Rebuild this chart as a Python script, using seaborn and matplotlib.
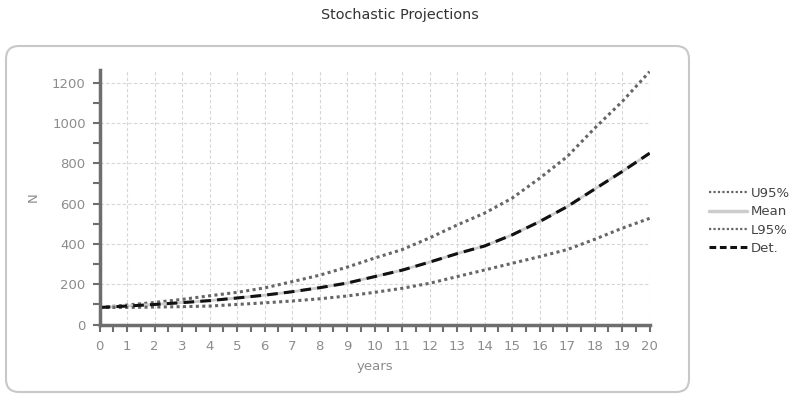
import matplotlib
matplotlib.use("Agg")
import matplotlib.pyplot as plt
import seaborn as sns
import pandas as pd
from matplotlib.patches import FancyBboxPatch
from matplotlib.ticker import MultipleLocator
from matplotlib.lines import Line2D

years = list(range(0, 21))
u95 = [85, 97, 110, 125, 143, 160, 182, 213, 245, 285, 330, 372, 430, 494, 553, 627, 726, 833, 974, 1106, 1255]
mean = [85, 92, 100, 109, 119, 132, 146, 163, 183, 206, 238, 270, 310, 352, 390, 445, 511, 585, 672, 759, 850]
l95 = [85, 85, 87, 89, 92, 100, 108, 117, 128, 142, 160, 180, 205, 238, 271, 304, 337, 372, 423, 478, 527]
det = [85, 92, 100, 109, 119, 132, 146, 163, 183, 206, 238, 270, 310, 352, 390, 445, 511, 585, 672, 759, 850]

sns.set_theme(style="white")
plt.rcParams['font.family'] = ['DejaVu Sans']

fig = plt.figure(figsize=(7.94, 3.95), dpi=100)
ax = fig.add_axes([99.6/794, 1-324.6/395, (649.6-99.6)/794, (324.6-70)/395])

frame = FancyBboxPatch((0.06, 0.03), 6.83, 3.46,
                       boxstyle="round,pad=0,rounding_size=0.13",
                       transform=fig.dpi_scale_trans, facecolor="none",
                       edgecolor="#c8c8c8", linewidth=1.5)
fig.patches.append(frame)

df = pd.DataFrame({"years": years, "U95%": u95, "Mean": mean, "L95%": l95, "Det.": det})

sns.lineplot(data=df, x="years", y="U95%", ax=ax, color="#666666", lw=2.2,
             linestyle=(0, (1, 1.1)))
sns.lineplot(data=df, x="years", y="Mean", ax=ax, color="#cccccc", lw=2,
             linestyle="-")
sns.lineplot(data=df, x="years", y="L95%", ax=ax, color="#666666", lw=2.2,
             linestyle=(0, (1, 1.1)))
sns.lineplot(data=df, x="years", y="Det.", ax=ax, color="#111111", lw=2.2,
             linestyle=(0, (3.5, 2)))

ax.set_xlim(0, 20)
ax.set_ylim(0, 1263)
ax.xaxis.set_major_locator(MultipleLocator(1))
ax.xaxis.set_minor_locator(MultipleLocator(0.5))
ax.yaxis.set_major_locator(MultipleLocator(200))
ax.yaxis.set_minor_locator(MultipleLocator(100))

ax.grid(True, which="major", color="#d6d6d6", linestyle=(0, (3, 2)), linewidth=0.8)
for s in ["top", "right"]:
    ax.spines[s].set_visible(False)
for s in ["left", "bottom"]:
    ax.spines[s].set_color("#6e6e6e")
    ax.spines[s].set_linewidth(2.5)

ax.tick_params(axis="both", which="both", direction="out", length=5, width=1.5,
               color="#6e6e6e", labelcolor="#8c8c8c", labelsize=9.5,
               bottom=True, left=True)
ax.tick_params(axis="x", pad=6)
ax.tick_params(axis="y", pad=5)

ax.set_xlabel("years", color="#8c8c8c", fontsize=9.5, labelpad=5)
ax.set_ylabel("N", color="#8c8c8c", fontsize=9.5, labelpad=9)

fig.suptitle("Stochastic Projections", x=400/794, y=1-15/395, va="center",
             fontsize=10.4, color="#333333")

handles = [
    Line2D([], [], color="#666666", lw=1.6, linestyle=(0, (1, 1))),
    Line2D([], [], color="#cccccc", lw=2.5, linestyle="-"),
    Line2D([], [], color="#666666", lw=1.6, linestyle=(0, (1, 1))),
    Line2D([], [], color="#111111", lw=2.2, linestyle=(0, (2.2, 1.2))),
]
leg = ax.legend(handles, ["U95%", "Mean", "L95%", "Det."],
                loc="center left", bbox_to_anchor=(709/794, 1-221/395),
                bbox_transform=fig.transFigure, frameon=False, fontsize=9.5,
                handlelength=2.9, handletextpad=0.25, labelspacing=0.4,
                borderaxespad=0, borderpad=0)
for t in leg.get_texts():
    t.set_color("#444444")

fig.savefig("out.png", dpi=100)
